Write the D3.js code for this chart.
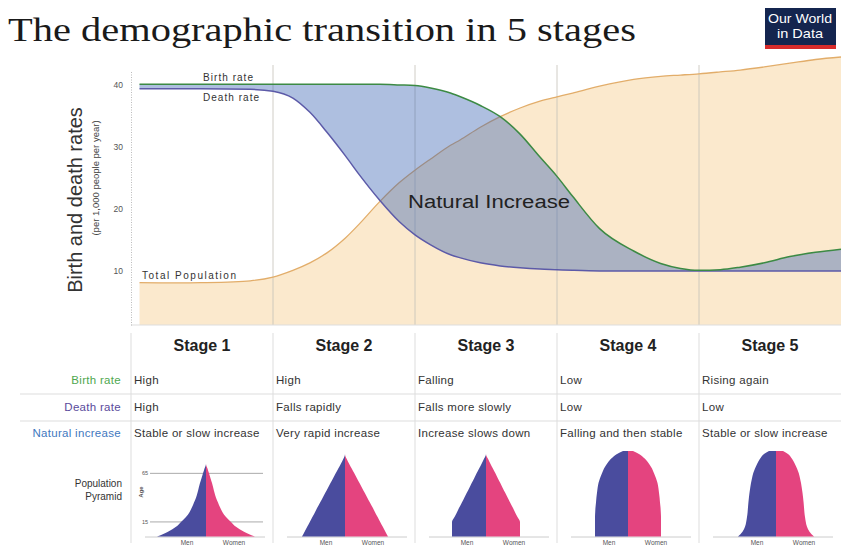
<!DOCTYPE html>
<html lang="en">
<head>
<meta charset="UTF-8">
<title>The demographic transition in 5 stages</title>
<script src="https://d3js.org/d3.v7.min.js"></script>
<style>
  body { margin: 0; background: #fff; }
  svg { display: block; font-family: "Liberation Sans", Arial, sans-serif; }
</style>
</head>
<body>
<svg id="chart" width="841" height="546"></svg>
<script>
// stage position (0 = start of stage 1, 5 = end of stage 5)
const t = [0.06, 0.49, 0.84, 1.0, 1.14, 1.26, 1.38, 1.51, 1.61, 1.75, 1.89, 2.0, 2.11, 2.25, 2.32, 2.46,
           2.6, 2.74, 2.88, 3.0, 3.11, 3.3, 3.54, 3.73, 3.87, 4.0, 4.15, 4.29, 4.46, 4.64, 4.82, 5.0];
const birthRate = [40, 40, 40, 40, 40, 40, 40, 40, 40, 40, 39.9, 39.8, 39.4, 38.6, 38, 36.6,
                   34.8, 32, 28.3, 25.2, 22, 16.8, 13.2, 11.2, 10.4, 10.1, 10.2, 10.6, 11.3, 12.3, 13, 13.5];
const deathRate = [39.3, 39.3, 39.2, 38.9, 37.8, 35.5, 32.3, 28.5, 25.4, 21.4, 17.9, 15.8, 14.2, 12.6, 12.1, 11.3,
                   10.8, 10.5, 10.3, 10.2, 10.1, 10, 10, 10, 10, 10, 10, 10, 10, 10, 10, 10];
const totalPopulation = [8.1, 8.1, 8.4, 9.0, 10.1, 11.3, 12.9, 15.3, 17.6, 21.1, 24.2, 26.2, 28, 30.2, 31.1, 33.1,
                         34.8, 36.2, 37.3, 38, 38.6, 39.7, 40.8, 41.3, 41.5, 41.7, 42, 42.3, 42.8, 43.4, 44, 44.4];
const yTicks = [10, 20, 30, 40];

const stageNames = ["Stage 1", "Stage 2", "Stage 3", "Stage 4", "Stage 5"];
const rowLabels = ["Birth rate", "Death rate", "Natural increase"];
const birthText = ["High", "High", "Falling", "Low", "Rising again"];
const deathText = ["High", "Falls rapidly", "Falls more slowly", "Low", "Low"];
const increaseText = ["Stable or slow increase", "Very rapid increase", "Increase slows down",
                      "Falling and then stable", "Stable or slow increase"];

// population pyramids: half-width per age level (same for men and women)
const ages = [0, 5, 10, 15, 20, 25, 30, 35, 40, 45, 50, 55, 60, 65, 70, 75, 80, 85, 88];
const pyramid1 = [49, 38, 30, 25, 20, 16.5, 14, 12, 10, 8.5, 7.3, 6, 4.5, 3, 1.5, 0, 0, 0, 0];
const pyramid2 = [43, 40.4, 37.8, 35.2, 32.6, 30, 27.5, 24.9, 22.3, 19.7, 17.1, 14.5, 11.9, 9.3, 6.7, 4.1, 1.6, 0, 0];
const pyramid3 = [34, 34, 34, 34, 31.5, 29, 26.6, 24.1, 21.7, 19.2, 16.7, 14.3, 11.8, 9.4, 6.9, 4.4, 2, 0, 0];
const pyramid4 = [33, 33, 33, 33, 33, 32.8, 32.5, 32, 31.6, 31, 30.4, 29.5, 28, 26, 24, 21, 17, 11, 5];
const pyramid5 = [38, 33.5, 31, 29.8, 29, 28.4, 28, 27.6, 27.1, 26.5, 25.8, 25, 24, 22.8, 21, 18.8, 16, 12, 7];
const pyramids = [pyramid1, pyramid2, pyramid3, pyramid4, pyramid5];
const pyramidAgeTicks = [15, 65];

const svg = d3.select("#chart");

const x = d3.scaleLinear().domain([0, 5]).range([131, 841]);
const y = d3.scaleLinear().domain([1.3, 44.4]).range([325, 57]);

const rows = t.map((d, i) => ({t: d, birth: birthRate[i], death: deathRate[i], pop: totalPopulation[i]}));
const curve = d3.curveMonotoneX;
const popCurve = d3.curveCatmullRom.alpha(0.5);

// Title
svg.append("text")
  .attr("x", 8).attr("y", 41)
  .attr("font-family", "'Liberation Serif', 'DejaVu Serif', serif")
  .attr("font-size", 34)
  .attr("fill", "#1a1a1a")
  .attr("textLength", 628)
  .attr("lengthAdjust", "spacingAndGlyphs")
  .text("The demographic transition in 5 stages");

// Logo
const logo = svg.append("g");
logo.append("rect").attr("x", 765).attr("y", 8).attr("width", 71).attr("height", 41).attr("fill", "#14254f");
logo.append("rect").attr("x", 765).attr("y", 45).attr("width", 71).attr("height", 4).attr("fill", "#d72b2b");
logo.append("text").attr("x", 800).attr("y", 23).attr("text-anchor", "middle")
  .attr("font-size", 13.5).attr("fill", "#fff").attr("textLength", 64)
  .attr("lengthAdjust", "spacingAndGlyphs").text("Our World");
logo.append("text").attr("x", 800).attr("y", 38).attr("text-anchor", "middle")
  .attr("font-size", 13.5).attr("fill", "#fff").attr("textLength", 46)
  .attr("lengthAdjust", "spacingAndGlyphs").text("in Data");

// Total population area
svg.append("path")
  .datum(rows)
  .attr("fill", "#fbe9cd")
  .attr("d", d3.area().curve(popCurve).x(d => x(d.t)).y0(y(1.3)).y1(d => y(d.pop)));

// stage lines in chart
svg.append("g").selectAll("line")
  .data(d3.range(1, 5))
  .join("line")
  .attr("x1", d => x(d)).attr("x2", d => x(d))
  .attr("y1", 65).attr("y2", y(1.3))
  .attr("stroke", "#c4c0b8").attr("stroke-width", 0.8);

svg.append("path")
  .datum(rows)
  .attr("fill", "none")
  .attr("stroke", "#e2ad6a")
  .attr("stroke-width", 1.3)
  .attr("d", d3.line().curve(popCurve).x(d => x(d.t)).y(d => y(d.pop)));

// Natural increase area
svg.append("path")
  .datum(rows)
  .attr("fill", "#345fb1")
  .attr("fill-opacity", 0.4)
  .attr("d", d3.area().curve(curve).x(d => x(d.t)).y0(d => y(d.death)).y1(d => y(d.birth)));

svg.append("path")
  .datum(rows)
  .attr("fill", "none")
  .attr("stroke", "#5c5aa8")
  .attr("stroke-width", 1.5)
  .attr("d", d3.line().curve(curve).x(d => x(d.t)).y(d => y(d.death)));

svg.append("path")
  .datum(rows)
  .attr("fill", "none")
  .attr("stroke", "#3c8a44")
  .attr("stroke-width", 1.5)
  .attr("d", d3.line().curve(curve).x(d => x(d.t)).y(d => y(d.birth)));

// Axes
svg.append("line")
  .attr("x1", x(0)).attr("x2", x(5)).attr("y1", y(1.3)).attr("y2", y(1.3))
  .attr("stroke", "#ddd").attr("stroke-width", 1.2);

const yAxis = svg.append("g")
  .attr("transform", `translate(${x(0)},0)`)
  .call(d3.axisLeft(y.copy().domain([1.3, 42.3]).range([y(1.3), y(42.3)]))
    .tickValues(yTicks).tickSize(0).tickPadding(8));
yAxis.select(".domain").attr("stroke", "#bbb").attr("stroke-dasharray", "1,1.5");
yAxis.selectAll("text").attr("font-size", 8.5).attr("fill", "#555").attr("font-family", "'Liberation Sans', Arial, sans-serif");

svg.append("text")
  .attr("transform", "translate(82,200) rotate(-90)")
  .attr("text-anchor", "middle")
  .attr("font-size", 20).attr("fill", "#333")
  .text("Birth and death rates");
svg.append("text")
  .attr("transform", "translate(99,178) rotate(-90)")
  .attr("text-anchor", "middle")
  .attr("font-size", 9.5).attr("fill", "#444")
  .text("(per 1,000 people per year)");

// Line labels
const lab = svg.append("g").attr("font-size", 10).attr("fill", "#333").attr("lengthAdjust", "spacingAndGlyphs");
lab.append("text").attr("x", 203).attr("y", 81).attr("textLength", 50).text("Birth rate");
lab.append("text").attr("x", 203).attr("y", 101).attr("textLength", 56).text("Death rate");
lab.append("text").attr("x", 142).attr("y", 279).attr("textLength", 94).text("Total Population");
svg.append("text").attr("x", 408).attr("y", 208)
  .attr("font-size", 18).attr("fill", "#222")
  .attr("textLength", 162).attr("lengthAdjust", "spacingAndGlyphs")
  .text("Natural Increase");

// Table
const table = svg.append("g");
table.selectAll(".col-line")
  .data(d3.range(0, 5))
  .join("line")
  .attr("x1", d => x(d)).attr("x2", d => x(d))
  .attr("y1", 333).attr("y2", 543)
  .attr("stroke", "#ddd").attr("stroke-width", 1);

[394, 421].forEach(yy => {
  table.append("line").attr("x1", 20).attr("x2", 841).attr("y1", yy).attr("y2", yy)
    .attr("stroke", "#ddd").attr("stroke-width", 1);
});

table.selectAll(".stage")
  .data(stageNames)
  .join("text")
  .attr("x", (d, i) => x(i + 0.5)).attr("y", 351)
  .attr("text-anchor", "middle")
  .attr("font-size", 16).attr("font-weight", "bold").attr("fill", "#222")
  .text(d => d);

const rowY = [384, 411, 437];
const rowColors = ["#4fa84f", "#5a4a9c", "#3f78c0"];
table.selectAll(".rowlab")
  .data(rowLabels)
  .join("text")
  .attr("x", 121).attr("y", (d, i) => rowY[i])
  .attr("text-anchor", "end")
  .attr("font-size", 11.5).attr("letter-spacing", 0.3).attr("fill", (d, i) => rowColors[i])
  .text(d => d);

[birthText, deathText, increaseText].forEach((arr, r) => {
  table.append("g").selectAll("text")
    .data(arr)
    .join("text")
    .attr("x", (d, i) => x(i) + 3).attr("y", rowY[r])
    .attr("font-size", 11.5).attr("letter-spacing", 0.3).attr("fill", "#333")
    .text(d => d);
});

table.append("text").attr("x", 122).attr("y", 487).attr("text-anchor", "end")
  .attr("font-size", 10).attr("fill", "#333").text("Population");
table.append("text").attr("x", 122).attr("y", 500).attr("text-anchor", "end")
  .attr("font-size", 10).attr("fill", "#333").text("Pyramid");

// Pyramids
const ageY = d3.scaleLinear().domain([0, 88]).range([536.5, 451]);
const halfW = d3.scaleLinear().domain([0, 50]).range([0, 50]);
const pyrCenters = [206, 345, 486, 628, 776];

pyramids.forEach((vals, i) => {
  const cx = pyrCenters[i];
  const g = svg.append("g");
  const pts = ages.map((a, k) => ({age: a, w: vals[k]}));

  if (i === 0) {
    g.selectAll(".agegrid")
      .data(pyramidAgeTicks)
      .join("line")
      .attr("x1", 150).attr("x2", 263)
      .attr("y1", d => ageY(d)).attr("y2", d => ageY(d))
      .attr("stroke", "#aaa").attr("stroke-width", 1);
    g.selectAll(".agetick")
      .data(pyramidAgeTicks)
      .join("text")
      .attr("x", 142).attr("y", d => ageY(d) + 2)
      .attr("font-size", 5.5).attr("fill", "#555")
      .text(d => d);
    g.append("text")
      .attr("transform", "translate(143,492) rotate(-90)")
      .attr("text-anchor", "middle")
      .attr("font-size", 6).attr("font-weight", "bold").attr("fill", "#555")
      .text("Age");
  }

  g.append("line")
    .attr("x1", x(i) + 14).attr("x2", x(i) + 134)
    .attr("y1", 537).attr("y2", 537)
    .attr("stroke", "#ccc").attr("stroke-width", 1);

  g.append("path")
    .datum(pts)
    .attr("fill", "#4a4c9e")
    .attr("d", d3.area().curve(d3.curveMonotoneY)
      .y(d => ageY(d.age)).x0(cx).x1(d => cx - halfW(d.w)));
  g.append("path")
    .datum(pts)
    .attr("fill", "#e4447f")
    .attr("d", d3.area().curve(d3.curveMonotoneY)
      .y(d => ageY(d.age)).x0(cx).x1(d => cx + halfW(d.w)));

  g.append("text").attr("x", cx - 19).attr("y", 545).attr("text-anchor", "middle")
    .attr("font-size", 6.5).attr("fill", "#555").text("Men");
  g.append("text").attr("x", cx + 28).attr("y", 545).attr("text-anchor", "middle")
    .attr("font-size", 6.5).attr("fill", "#555").text("Women");
});
</script>
</body>
</html>
